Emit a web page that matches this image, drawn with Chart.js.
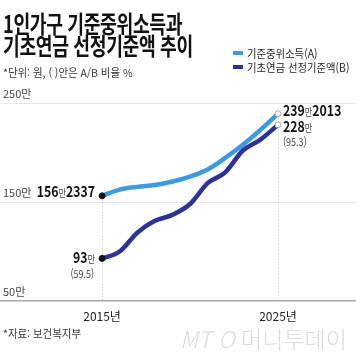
<!DOCTYPE html>
<html lang="ko">
<head>
<meta charset="utf-8">
<script src="https://cdn.jsdelivr.net/npm/chart.js@4"></script>
<style>
  html, body { margin: 0; padding: 0; background: #fff; }
  #wrap { position: relative; width: 356px; height: 364px; overflow: hidden; background: #fff;
          font-family: 'Noto Sans CJK KR', 'Noto Sans', sans-serif; color: #111; }
  #c { position: absolute; left: 0; top: 0; }
  .t { position: absolute; white-space: nowrap; transform-origin: left center; }
  .title { font-size: 24px; font-weight: 700; line-height: 24px; letter-spacing: -0.5px; transform: scaleX(0.76); left: 3px; }
  .sub { font-size: 11px; line-height: 12px; color: #333; left: 3px; transform: scaleX(0.95); }
  .leg { font-size: 11.5px; line-height: 12px; color: #222; left: 247px; transform: scaleX(0.9); }
  .mk { position: absolute; width: 10px; height: 4px; left: 233px; }
  .wm { font-size: 23px; line-height: 24px; color: #dcdcdc; font-weight: 300; left: 180px; }
</style>
</head>
<body>
<div id="wrap">
  <canvas id="c" width="356" height="364"></canvas>
  <div class="t title" style="top:11px">1인가구 기준중위소득과</div>
  <div class="t title" style="top:33px">기초연금 선정기준액 추이</div>
  <div class="t sub" style="top:66px">*단위: 원, ( )안은 A/B 비율 %</div>
  <div class="mk" style="top:51px;background:#3a9be0"></div>
  <div class="t leg" style="top:47px">기준중위소득(A)</div>
  <div class="mk" style="top:65px;background:#2b3399"></div>
  <div class="t leg" style="top:61px">기초연금 선정기준액(B)</div>
  <div class="t sub" style="top:327px">*자료: 보건복지부</div>
  <div class="t wm" style="top:326px"><i>MT O</i> 머니투데이</div>
</div>
<script>
// ---- data (unit: 만원) ----
const years = [2015, 2016, 2017, 2018, 2019, 2020, 2021, 2022, 2023, 2024, 2025];
const medianIncome = [156.2337, 162.4831, 165.2931, 167.2105, 170.7008, 175.7194, 182.7831, 194.4812, 207.7892, 222.8445, 239.2013];
const pensionThreshold = [93, 100, 119, 131, 137, 148, 169, 180, 202, 213, 228];
const xTickYears = [2015, 2025];
const yTickValues = [50, 150, 250];
const seriesNames = ['기준중위소득(A)', '기초연금 선정기준액(B)'];

const COLOR_A = '#3a9be0';
const COLOR_B = '#2b3399';
const FONT = "'Noto Sans CJK KR', 'Noto Sans', sans-serif";

function splitMan(v) {
  const whole = Math.floor(v + 1e-9);
  const rest = Math.round((v - whole) * 10000);
  return [String(whole), rest ? String(rest) : ''];
}

function drawRich(ctx, x, y, segs, align, sx) {
  let w = 0;
  segs.forEach(s => { ctx.font = s.font; s.w = ctx.measureText(s.t).width; w += s.w; });
  const start = align === 'right' ? x - w * sx : x;
  ctx.save();
  ctx.translate(start, y);
  ctx.scale(sx, 1);
  ctx.textBaseline = 'alphabetic';
  ctx.textAlign = 'left';
  let cx = 0;
  segs.forEach(s => { ctx.font = s.font; ctx.fillStyle = s.color; ctx.fillText(s.t, cx, 0); cx += s.w; });
  ctx.restore();
}

function valueSegs(v) {
  const [a, b] = splitMan(v);
  const segs = [
    { t: a, font: `700 15px ${FONT}`, color: '#111' },
    { t: '만', font: `400 10px ${FONT}`, color: '#444' }
  ];
  if (b) segs.push({ t: b, font: `700 15px ${FONT}`, color: '#111' });
  return segs;
}

const annot = {
  id: 'annot',
  beforeDatasetsDraw(chart) {
    const { ctx, scales: { x, y } } = chart;
    const base = y.getPixelForValue(50);
    ctx.save();
    ctx.strokeStyle = '#c8c8c8';
    ctx.lineWidth = 1;
    ctx.setLineDash([1, 2]);
    xTickYears.forEach(yr => {
      const i = years.indexOf(yr);
      const px = Math.round(x.getPixelForValue(yr)) + 0.5;
      const top = y.getPixelForValue(medianIncome[i]) + 4;
      ctx.beginPath(); ctx.moveTo(px, top); ctx.lineTo(px, base); ctx.stroke();
    });
    ctx.restore();
  },
  afterDatasetsDraw(chart) {
    const { ctx, scales: { x, y } } = chart;
    const n = years.length - 1;
    const sx = 0.82;
    const x0 = x.getPixelForValue(years[0]);
    const x1 = x.getPixelForValue(years[n]);
    drawRich(ctx, x0 - 7, y.getPixelForValue(medianIncome[0]) + 1.5, valueSegs(medianIncome[0]), 'right', sx);
    const yb0 = y.getPixelForValue(pensionThreshold[0]);
    drawRich(ctx, x0 - 7, yb0 + 5, valueSegs(pensionThreshold[0]), 'right', sx);
    const r0 = (pensionThreshold[0] / medianIncome[0] * 100).toFixed(1);
    drawRich(ctx, x0 - 8, yb0 + 20, [{ t: `(${r0})`, font: `400 11px ${FONT}`, color: '#444' }], 'right', sx);
    drawRich(ctx, x1 + 5, y.getPixelForValue(medianIncome[n]) + 2.5, valueSegs(medianIncome[n]), 'left', sx);
    const yb1 = y.getPixelForValue(pensionThreshold[n]);
    drawRich(ctx, x1 + 5, yb1 + 7, valueSegs(pensionThreshold[n]), 'left', sx);
    const r1 = (pensionThreshold[n] / medianIncome[n] * 100).toFixed(1);
    drawRich(ctx, x1 + 5, yb1 + 21, [{ t: `(${r1})`, font: `400 11px ${FONT}`, color: '#444' }], 'left', sx);
  }
};

const endPt = (ctx) => ctx.dataIndex === 0 || ctx.dataIndex === years.length - 1;

function ds(label, data, color, order) {
  return {
    label, order,
    data: years.map((yr, i) => ({ x: yr, y: data[i] })),
    borderColor: color,
    borderWidth: 4.5,
    borderCapStyle: 'round',
    borderJoinStyle: 'round',
    cubicInterpolationMode: 'monotone',
    pointRadius: c => endPt(c) ? 3 : 0,
    pointHoverRadius: 0,
    pointBackgroundColor: c => c.dataIndex === 0 ? '#111' : '#fff',
    pointBorderColor: c => c.dataIndex === 0 ? '#111' : '#aaa',
    pointBorderWidth: 1,
    fill: false
  };
}

new Chart(document.getElementById('c'), {
  type: 'line',
  data: {
    datasets: [
      ds(seriesNames[0], medianIncome, COLOR_A, 1),
      ds(seriesNames[1], pensionThreshold, COLOR_B, 0)
    ]
  },
  options: {
    responsive: false,
    animation: false,
    events: [],
    layout: { autoPadding: false, padding: { top: 103, bottom: 32.6, left: 0, right: 0 } },
    plugins: { legend: { display: false }, tooltip: { enabled: false } },
    scales: {
      x: {
        type: 'linear',
        min: 2009.2,
        max: 2029.43,
        afterBuildTicks: s => { s.ticks = xTickYears.map(v => ({ value: v })); },
        grid: { display: false, drawTicks: false },
        border: { display: true, color: '#a8a8a8', width: 1.5 },
        ticks: {
          padding: 8,
          color: '#222',
          font: { family: FONT, size: 12 },
          callback: v => v + '년'
        }
      },
      y: {
        min: 50,
        max: 250,
        afterFit: s => { s.width = 0; },
        afterBuildTicks: s => { s.ticks = yTickValues.map(v => ({ value: v })); },
        grid: { drawTicks: false, color: c => c.tick && c.tick.value === 50 ? 'rgba(0,0,0,0)' : '#e6e6e6', lineWidth: 1 },
        border: { display: false },
        ticks: {
          mirror: true,
          padding: 3,
          labelOffset: -9,
          color: '#444',
          font: { family: FONT, size: 11 },
          callback: v => v + '만'
        }
      }
    }
  },
  plugins: [annot]
});
</script>
</body>
</html>
